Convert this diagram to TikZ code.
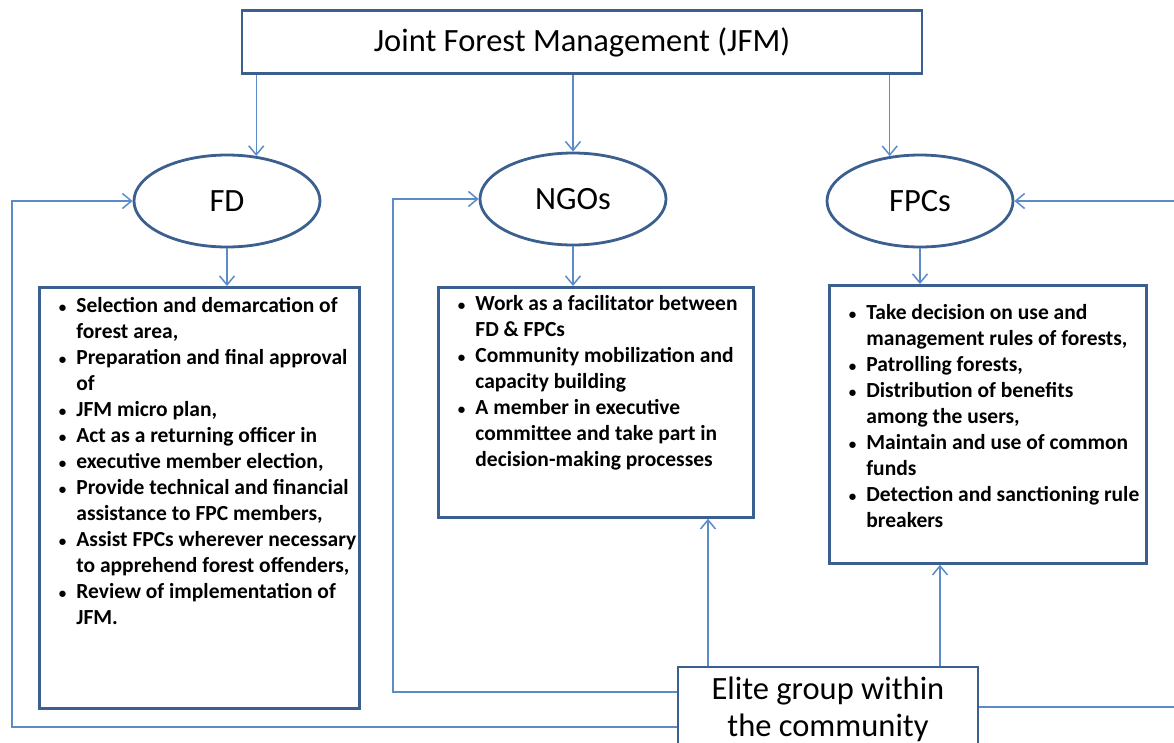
\documentclass[tikz,border=0pt]{standalone}
\usepackage{fontspec}
\setmainfont{Carlito}
\usepackage{enumitem}
\usetikzlibrary{shapes.geometric, arrows.meta}

\definecolor{boxblue}{HTML}{3B5F8E}
\definecolor{lineblue}{HTML}{5B8BC9}

\setlist[itemize]{label={\fontsize{15}{15}\selectfont\textbullet}, leftmargin=37pt, labelsep=10pt, topsep=0pt, partopsep=0pt, itemsep=0pt, parsep=0pt}

\tikzset{
  bigtext/.style={font=\fontsize{32.5}{37}\selectfont},
  titlebox/.style={draw=boxblue, line width=2.8pt, minimum width=680pt, minimum height=63pt, bigtext},
  actor/.style={ellipse, draw=boxblue, line width=2.8pt, minimum width=186pt, minimum height=92pt, inner sep=0pt, bigtext},
  listbox/.style={draw=boxblue, line width=2.8pt, inner sep=0pt, anchor=north west, font=\bfseries\fontsize{21.5}{26}\selectfont},
  link/.style={color=lineblue, line width=1.5pt},
  linkarrow/.style={link, -{Straight Barb[length=9pt, width=15pt]}},
}

\begin{document}
\begin{tikzpicture}[x=1pt, y=-1pt]
\useasboundingbox (0,0) rectangle (1174,742);

\node[titlebox] (jfm) at (582,42) {Joint Forest Management (JFM)};

\node[actor] (fd) at (227,201) {FD};
\node[actor] (ngo) at (573,199) {NGOs};
\node[actor] (fpc) at (920,201) {FPCs};

\node[listbox] (fdlist) at (38,286) {\begin{minipage}[t][421pt][t]{320pt}\vspace*{10pt}
\begin{itemize}
\item Selection and demarcation of\newline forest area,
\item Preparation and final approval\newline of
\item JFM micro plan,
\item Act as a returning officer in
\item executive member election,
\item Provide technical and financial\newline assistance to FPC members,
\item Assist FPCs wherever necessary\newline to apprehend forest offenders,
\item Review of implementation of\newline JFM.
\end{itemize}\end{minipage}};

\node[listbox] (ngolist) at (437,286) {\begin{minipage}[t][230pt][t]{315pt}\vspace*{8pt}
\begin{itemize}
\item Work as a facilitator between\newline FD \& FPCs
\item Community mobilization and\newline capacity building
\item A member in executive\newline committee and take part in\newline decision-making processes
\end{itemize}\end{minipage}};

\node[listbox] (fpclist) at (828,284) {\begin{minipage}[t][278pt][t]{317pt}\vspace*{19pt}
\begin{itemize}
\item Take decision on use and\newline management rules of forests,
\item Patrolling forests,
\item Distribution of benefits\newline among the users,
\item Maintain and use of common\newline funds
\item Detection and sanctioning rule\newline breakers
\end{itemize}\end{minipage}};

\node[draw=boxblue, line width=2.8pt, minimum width=300pt, minimum height=84pt, align=center, bigtext] (elite) at (828,709) {Elite group within\\the community};

\draw[linkarrow] (jfm.south -| fd.57) -- (fd.57);
\draw[linkarrow] (jfm.south -| ngo.north) -- (ngo.north);
\draw[linkarrow] (jfm.south -| fpc.124) -- (fpc.124);

\draw[linkarrow] (fd.south) -- (fd.south |- fdlist.north);
\draw[linkarrow] (ngo.south) -- (ngo.south |- ngolist.north);
\draw[linkarrow] (fpc.south) -- (fpc.south |- fpclist.north);

\coordinate (fdturn) at (12,727);
\coordinate (ngoturn) at (393,692);
\coordinate (fpcturn) at (1177,707);
\coordinate (ngoup) at (708,0);
\coordinate (fpcup) at (940,0);

\draw[linkarrow] (elite.west |- fdturn) -- (fdturn) |- (fd.west);
\draw[linkarrow] (elite.west |- ngoturn) -- (ngoturn) |- (ngo.west);
\draw[linkarrow] (elite.east |- fpcturn) -- (fpcturn) |- (fpc.east);
\draw[linkarrow] (elite.north -| ngoup) -- (ngolist.south -| ngoup);
\draw[linkarrow] (elite.north -| fpcup) -- (fpclist.south -| fpcup);
\end{tikzpicture}
\end{document}
